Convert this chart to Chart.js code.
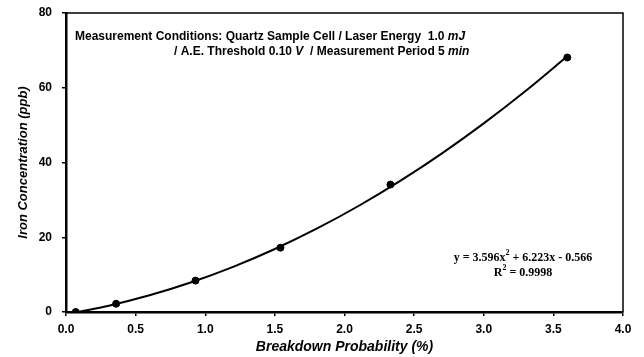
<!DOCTYPE html>
<html lang="en">
<head>
    <meta charset="UTF-8">
    <title>Iron Concentration vs Breakdown Probability</title>
    <script src="https://cdn.jsdelivr.net/npm/chart.js"></script>
    <style>
        body { margin: 0; background: #fff; }
        #wrap { width: 644px; height: 357px; }
    </style>
</head>
<body>
    <div id="wrap"><canvas id="chart"></canvas></div>

    <script>
        // measured points
        const probX = [0.07, 0.36, 0.93, 1.54, 2.33, 3.6];
        const ironY = [0, 2.2, 8.4, 17.2, 34.1, 68.1];

        // fitted curve
        const fitX = [0.09, 0.3, 0.6, 0.9, 1.2, 1.5, 1.8, 2.1, 2.4, 2.7, 3.0, 3.3, 3.6];
        const fitY = [0.02, 1.62, 4.46, 7.95, 12.08, 16.86, 22.29, 28.36, 35.08, 42.45, 50.47, 59.13, 68.44];

        const noteLine1 = ['Measurement Conditions: Quartz Sample Cell / Laser Energy  1.0 ', 'mJ'];
        const noteLine2 = ['/ A.E. Threshold 0.10 ', 'V', '  / Measurement Period 5 ', 'min'];
        const eqText = 'y = 3.596x';
        const eqRest = ' + 6.223x - 0.566';
        const r2Text = ['R', ' = 0.9998'];

        const boxPlugin = {
            id: 'box',
            afterDraw(chart) {
                const ctx = chart.ctx;
                const a = chart.chartArea;
                ctx.save();
                ctx.strokeStyle = '#000';
                ctx.lineWidth = 1.5;
                ctx.beginPath();
                ctx.moveTo(a.left, a.top);
                ctx.lineTo(a.right, a.top);
                ctx.lineTo(a.right, a.bottom);
                ctx.stroke();

                // conditions note, pieces in bold / bold italic
                ctx.fillStyle = '#000';
                ctx.textBaseline = 'middle';
                function pieces(parts, x, y) {
                    parts.forEach((p, i) => {
                        ctx.font = (i % 2 ? 'italic bold ' : 'bold ') + '12px "Liberation Sans", Arial';
                        ctx.fillText(p, x, y);
                        x += ctx.measureText(p).width;
                    });
                }
                pieces(noteLine1, 75, 37);
                pieces(noteLine2, 174, 52);

                // fit equation
                const big = 'bold 12px "Liberation Serif", "Times New Roman"';
                const sup = 'bold 8px "Liberation Serif", "Times New Roman"';
                ctx.font = big;
                let w1 = ctx.measureText(eqText).width;
                let w2 = ctx.measureText(eqRest).width;
                let x = 523 - (w1 + w2 + 4) / 2;
                ctx.fillText(eqText, x, 258);
                ctx.font = sup;
                ctx.fillText('2', x + w1, 253);
                ctx.font = big;
                ctx.fillText(eqRest, x + w1 + 4, 258);

                w1 = ctx.measureText(r2Text[0]).width;
                w2 = ctx.measureText(r2Text[1]).width;
                x = 523 - (w1 + w2 + 4) / 2;
                ctx.fillText(r2Text[0], x, 273);
                ctx.font = sup;
                ctx.fillText('2', x + w1, 268);
                ctx.font = big;
                ctx.fillText(r2Text[1], x + w1 + 4, 273);
                ctx.restore();
            }
        };

        const tickFont = { family: '"Liberation Sans", Arial', size: 12, weight: 'bold' };

        new Chart(document.getElementById('chart'), {
            type: 'scatter',
            data: {
                datasets: [{
                    type: 'line',
                    data: fitX.map((x, i) => ({ x: x, y: fitY[i] })),
                    borderColor: '#000',
                    borderWidth: 2,
                    pointRadius: 0,
                    cubicInterpolationMode: 'monotone',
                    fill: false
                }, {
                    data: probX.map((x, i) => ({ x: x, y: ironY[i] })),
                    backgroundColor: '#000',
                    borderColor: '#000',
                    pointRadius: 3.5
                }]
            },
            options: {
                responsive: true,
                maintainAspectRatio: false,
                animation: false,
                events: [],
                layout: { padding: { top: 13, right: 21, left: 0, bottom: 0 } },
                plugins: { legend: { display: false }, tooltip: { enabled: false } },
                scales: {
                    x: {
                        type: 'linear',
                        min: 0, max: 4,
                        ticks: {
                            stepSize: 0.5, color: '#000', font: tickFont, padding: 6,
                            callback: v => v.toFixed(1)
                        },
                        grid: { drawOnChartArea: false, tickLength: 4, color: '#000', lineWidth: 1.5 },
                        border: { color: '#000', width: 2.5 },
                        title: {
                            display: true, text: 'Breakdown Probability (%)', color: '#000',
                            font: { family: '"Liberation Sans", Arial', size: 14, weight: 'bold', style: 'italic' },
                            padding: { top: 0, bottom: 1 }
                        },
                        afterFit: s => { s.height = 45; s.paddingLeft = 0; s.paddingRight = 0; }
                    },
                    y: {
                        min: 0, max: 80,
                        ticks: { stepSize: 20, color: '#000', font: tickFont, padding: 10 },
                        grid: { drawOnChartArea: false, tickLength: 4, color: '#000', lineWidth: 1.5 },
                        border: { color: '#000', width: 2.5 },
                        title: {
                            display: true, text: 'Iron Concentration (ppb)', color: '#000',
                            font: { family: '"Liberation Sans", Arial', size: 13, weight: 'bold', style: 'italic' },
                            padding: { bottom: 0, top: 16 }
                        },
                        afterFit: s => { s.width = 66; s.paddingTop = 0; s.paddingBottom = 0; }
                    }
                }
            },
            plugins: [boxPlugin]
        });
    </script>
</body>
</html>
